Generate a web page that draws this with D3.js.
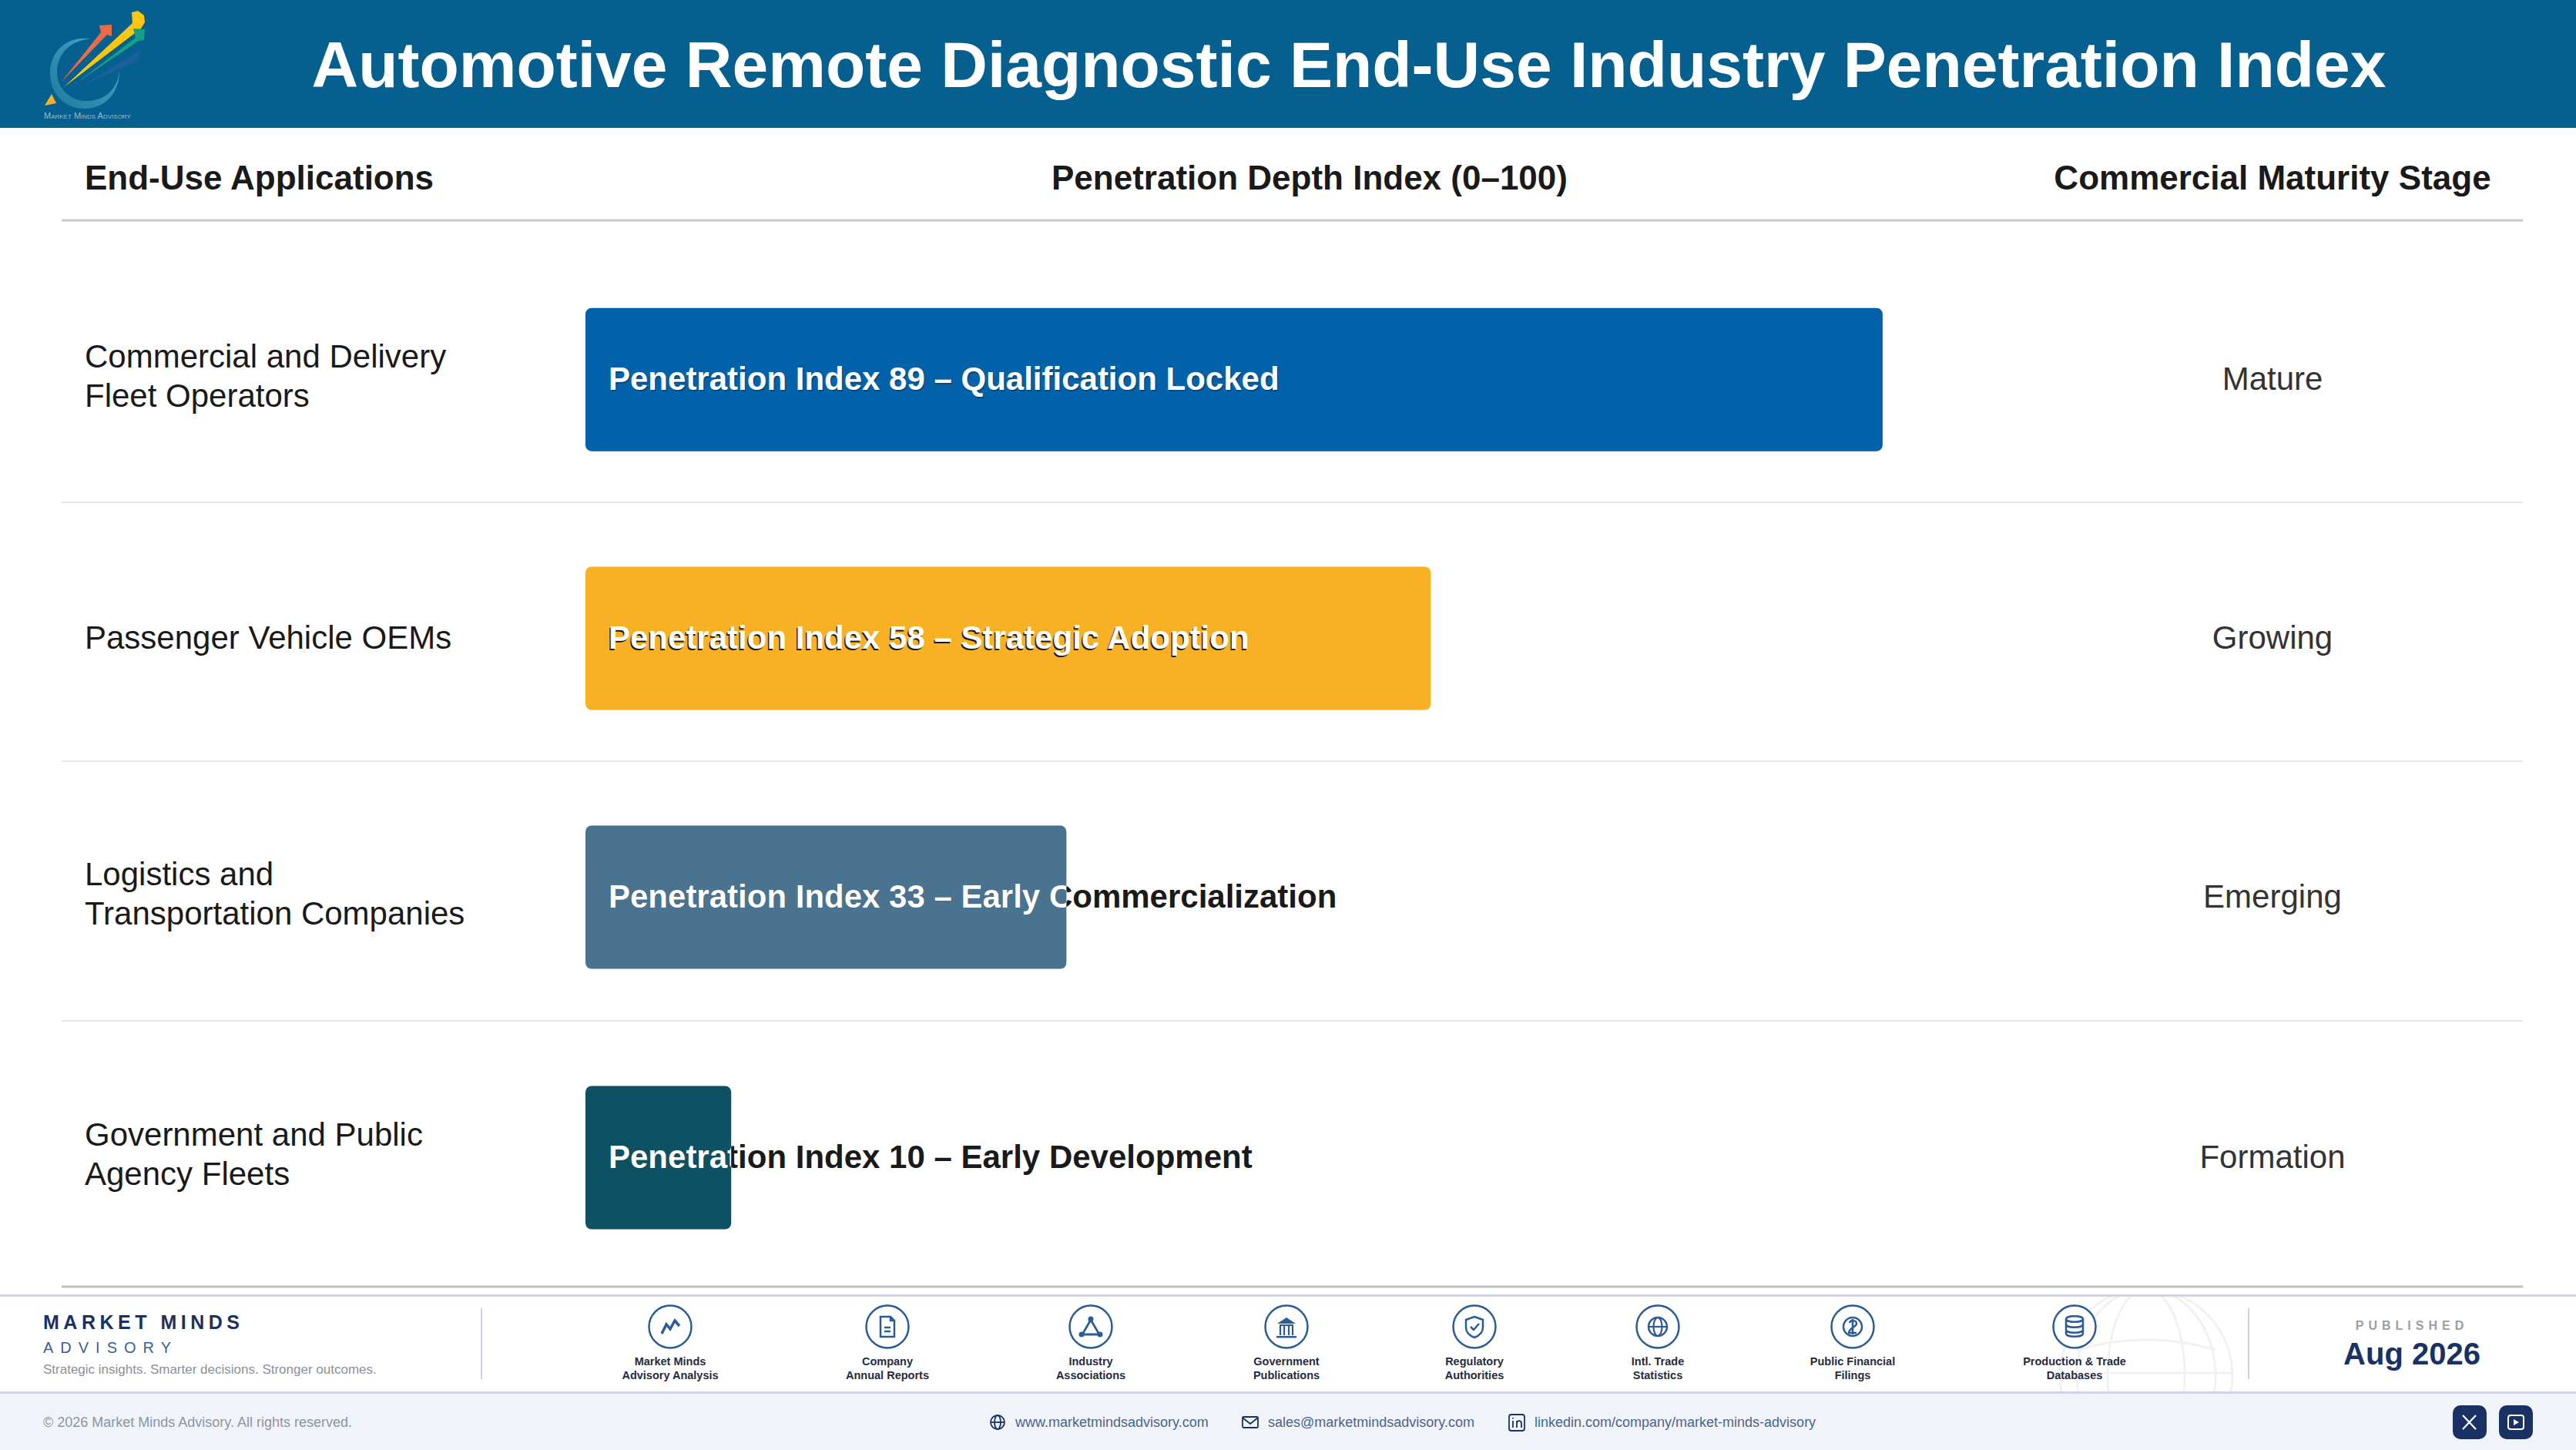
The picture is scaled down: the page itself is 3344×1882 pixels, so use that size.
<!DOCTYPE html>
<html><head><meta charset="utf-8">
<script src="https://cdn.jsdelivr.net/npm/d3@7/dist/d3.min.js"></script>
<style>html,body{margin:0;padding:0;background:#fff;overflow:hidden}svg{display:block}text{font-family:"Liberation Sans",Arial,sans-serif}</style>
</head><body><div id="chart"></div>
<script>
const title = "Automotive Remote Diagnostic End-Use Industry Penetration Index";
const headers = ["End-Use Applications", "Penetration Depth Index (0–100)", "Commercial Maturity Stage"];
const applications = [["Commercial and Delivery","Fleet Operators"],["Passenger Vehicle OEMs"],["Logistics and","Transportation Companies"],["Government and Public","Agency Fleets"]];
const indexValues = [89, 58, 33, 10];
const adoptionLabels = ["Qualification Locked","Strategic Adoption","Early Commercialization","Early Development"];
const stages = ["Mature","Growing","Emerging","Formation"];
const barColors = ["#0262a9","#f8b125","#49738e","#0d5162"];
const sources = [["Market Minds","Advisory Analysis"],["Company","Annual Reports"],["Industry","Associations"],["Government","Publications"],["Regulatory","Authorities"],["Intl. Trade","Statistics"],["Public Financial","Filings"],["Production & Trade","Databases"]];
const sourceCentres = [870,1152,1416,1670,1914,2152,2405,2693];
const contacts = ["www.marketmindsadvisory.com","sales@marketmindsadvisory.com","linkedin.com/company/market-minds-advisory"];

const W=3344,H=1882, svg=d3.select("#chart").append("svg").attr("width",W).attr("height",H).attr("viewBox",[0,0,W,H]);
const defs=svg.append("defs");
const x=d3.scaleLinear().domain([0,100]).range([760,2652]);
const y=d3.scaleOrdinal().domain(d3.range(indexValues.length)).range([492.7,828.5,1164.5,1502.5]);
const barH=186, ink="#1a1a1a", navy="#1a3263", iconBlue="#2a5c96";

// header band
svg.append("rect").attr("width",W).attr("height",166).attr("fill","#05608f");
svg.append("text").attr("x",1751).attr("y",83.5).attr("dy","0.35em").attr("text-anchor","middle").attr("font-size",84).attr("font-weight",700).attr("fill","#fff").text(title);

// logo
const logo=svg.append("g");
const ringGrad=defs.append("linearGradient").attr("id","ring").attr("x1",0).attr("y1",1).attr("x2",1).attr("y2",0);
ringGrad.append("stop").attr("offset","0").attr("stop-color","#1e7a9e");
ringGrad.append("stop").attr("offset","1").attr("stop-color","#4fa6c8");
logo.append("path").attr("fill","url(#ring)").attr("d","M118 50.5 C88 46 65 66 65 95 C65 124 86 141 110 141 C135 141 155 122 155 92 C152 118 134 132 110 131 C89 130 73 113 74 92 C75 69 92 52 118 50.5Z");
logo.append("path").attr("fill","#ef6a46").attr("d","M79 107 L131 42 L129 33 L145 32 L145 47 L139 45 Z");
logo.append("path").attr("fill","#ffc60f").attr("d","M83 113 L172 30 L171 16 L179 14 L187 20 L188 29 L183 37 Z");
logo.append("path").attr("fill","#14a085").attr("d","M100 107 L176 49 L173 37 L188 38 L187 52 L180 53 Z");
logo.append("path").attr("fill","#1c5f9e").attr("d","M103 113 L178 68 L182 65 L180 78 Z");
logo.append("path").attr("fill","#f8b125").attr("d","M58 137 L67 122 L73 134 Z");
logo.append("text").attr("x",57).attr("y",154).attr("font-size",11).attr("fill","#9fb9c9").style("font-variant","small-caps").text("Market Minds Advisory");

// column heads
[[110,"start"],[1700,"middle"],[2950,"middle"]].forEach((c,i)=>{
  svg.append("text").attr("x",c[0]).attr("y",231).attr("dy","0.35em").attr("text-anchor",c[1]).attr("font-size",44).attr("font-weight",700).attr("fill",ink).text(headers[i]);
});
svg.append("rect").attr("x",80).attr("y",284.5).attr("width",3195).attr("height",3).attr("fill","#c9c9d2");

// separators
svg.selectAll("line.sep").data(d3.range(indexValues.length-1)).join("line").attr("class","sep")
  .attr("x1",80).attr("x2",3275).attr("y1",i=>(y(i)+y(i+1))/2-8.5).attr("y2",i=>(y(i)+y(i+1))/2-8.5).attr("stroke","#e6e6ea").attr("stroke-width",2);

// row labels
const rows=svg.selectAll("g.row").data(indexValues).join("g").attr("class","row");
rows.each(function(v,i){
  const g=d3.select(this), cy=y(i), lines=applications[i];
  lines.forEach((t,k)=>{
    g.append("text").attr("x",110).attr("y",cy-(lines.length>1?5:1)+(k-(lines.length-1)/2)*51).attr("dy","0.35em").attr("font-size",42).attr("fill",ink).text(t);
  });
  g.append("rect").attr("x",x(0)).attr("y",cy-barH/2).attr("width",x(v)-x(0)).attr("height",barH).attr("rx",8).attr("fill",barColors[i]);
  const clip=defs.append("clipPath").attr("id","bar"+i);
  clip.append("rect").attr("x",x(0)).attr("y",cy-barH/2).attr("width",x(v)-x(0)).attr("height",barH);
  const label=`Penetration Index ${v} – ${adoptionLabels[i]}`;
  const off=[[1.5,1.5],[-1.5,1.5],[0,0],[0,0]][i];
  const op=[0.35,1,1,1][i];
  g.append("text").attr("x",x(0)+30+off[0]).attr("y",cy-1+off[1]).attr("dy","0.35em").attr("font-size",42).attr("font-weight",700).attr("fill",ink).attr("opacity",op).text(label);
  g.append("text").attr("x",x(0)+30).attr("y",cy-1).attr("dy","0.35em").attr("font-size",42).attr("font-weight",700).attr("fill","#fff").attr("clip-path",`url(#bar${i})`).text(label);
  g.append("text").attr("x",2950).attr("y",cy-1).attr("dy","0.35em").attr("text-anchor","middle").attr("font-size",42).attr("fill","#333").text(stages[i]);
});
svg.append("rect").attr("x",80).attr("y",1668.5).attr("width",3195).attr("height",3).attr("fill","#bfbfc4");

// footer watermark globe
const wm=svg.append("g").attr("fill","none").attr("stroke","#f1f1f3").attr("stroke-width",3);
defs.append("clipPath").attr("id","foot").append("rect").attr("x",0).attr("y",1681).attr("width",W).attr("height",126);
wm.attr("clip-path","url(#foot)");
wm.append("circle").attr("cx",2786).attr("cy",1785).attr("r",112);
wm.append("ellipse").attr("cx",2786).attr("cy",1785).attr("rx",50).attr("ry",112);
wm.append("ellipse").attr("cx",2786).attr("cy",1785).attr("rx",90).attr("ry",112);
wm.append("line").attr("x1",2670).attr("x2",2900).attr("y1",1782).attr("y2",1782);
wm.append("path").attr("d","M2696 1752 Q2786 1726 2876 1752");

// footer
svg.append("rect").attr("y",1680).attr("width",W).attr("height",3).attr("fill","#d1d4e4");
svg.append("rect").attr("y",1806).attr("width",W).attr("height",76).attr("fill","#f0f4f8");
svg.append("rect").attr("y",1806).attr("width",W).attr("height",3).attr("fill","#d1d4e4");
svg.append("text").attr("x",56).attr("y",1725).attr("font-size",25).attr("font-weight",700).attr("letter-spacing",5.5).attr("fill",navy).text("MARKET MINDS");
svg.append("text").attr("x",56).attr("y",1756).attr("font-size",20).attr("letter-spacing",9).attr("fill","#3c5f92").text("ADVISORY");
svg.append("text").attr("x",56).attr("y",1783).attr("font-size",17).attr("fill","#8a909c").text("Strategic insights. Smarter decisions. Stronger outcomes.");
[625,2919].forEach(px=>svg.append("rect").attr("x",px-1).attr("y",1698).attr("width",2).attr("height",92).attr("fill","#cdd2de"));

const icons=[
 g=>{g.append("path").attr("fill","none").attr("stroke-width",3.5).attr("d","M-11 9 L-5 -3 L0 3 L6 -8 L12 -1");},
 g=>{g.append("path").attr("fill","none").attr("stroke-width",2.5).attr("d","M-9 -13 H4 L9 -8 V13 H-9 Z M4 -13 V-8 H9 M-4 1 H4 M-4 6 H4");},
 g=>{g.append("path").attr("fill","none").attr("stroke-width",2.8).attr("d","M0 -9 L-11 10 H11 Z");[[0,-10],[-12,10],[12,10]].forEach(d=>g.append("circle").attr("cx",d[0]).attr("cy",d[1]).attr("r",3.5).attr("fill",iconBlue).attr("stroke","none"));},
 g=>{g.append("path").attr("fill",iconBlue).attr("stroke","none").attr("d","M0 -12 L12 -4 H-12 Z M-13 12 H13 V14.5 H-13 Z");g.append("path").attr("fill","none").attr("stroke-width",2.2).attr("d","M-9 -2 H9 M-8 -1 V11 M-3 -1 V11 M3 -1 V11 M8 -1 V11");},
 g=>{g.append("path").attr("fill","none").attr("stroke-width",2.5).attr("d","M0 -13 L11 -9 V1 C11 8 5 12 0 14 C-5 12 -11 8 -11 1 V-9 Z M-5 0 L-1 4 L6 -4");},
 g=>{g.append("circle").attr("r",12).attr("fill","none").attr("stroke-width",2.5);g.append("ellipse").attr("rx",5.5).attr("ry",12).attr("fill","none").attr("stroke-width",2.2);g.append("path").attr("stroke-width",2.2).attr("d","M-12 0 H12");},
 g=>{g.append("circle").attr("r",12).attr("fill","none").attr("stroke-width",2.5);g.append("path").attr("fill","none").attr("stroke-width",2.5).attr("d","M-4 -5 C-3 -9 5 -9 5 -4 C5 0 -5 2 -5 8 H5 M0 -10 V10");},
 g=>{g.append("path").attr("fill","none").attr("stroke-width",2.5).attr("d","M-11 -10 C-11 -15 11 -15 11 -10 V9 C11 14 -11 14 -11 9 Z M-11 -10 C-11 -5 11 -5 11 -10 M-11 -3 C-11 2 11 2 11 -3 M-11 4 C-11 9 11 9 11 4");}
];
sources.forEach((s,i)=>{
  const cx=sourceCentres[i], g=svg.append("g").attr("transform",`translate(${cx},1722)`).attr("stroke",iconBlue);
  g.append("circle").attr("r",27.5).attr("fill","#fff").attr("stroke-width",2.5);
  icons[i](g);
  s.forEach((t,k)=>svg.append("text").attr("x",cx).attr("y",1772+k*18).attr("text-anchor","middle").attr("font-size",14.5).attr("font-weight",700).attr("fill","#262b40").text(t));
});
svg.append("text").attr("x",3131).attr("y",1726).attr("text-anchor","middle").attr("font-size",16).attr("font-weight",700).attr("letter-spacing",6).attr("fill","#9a9ea6").text("PUBLISHED");
svg.append("text").attr("x",3131).attr("y",1771).attr("text-anchor","middle").attr("font-size",40).attr("font-weight",700).attr("fill",navy).text("Aug 2026");

// bottom strip
svg.append("text").attr("x",56).attr("y",1846).attr("dy","0.35em").attr("font-size",18).attr("fill","#8d95a3").text("© 2026 Market Minds Advisory. All rights reserved.");
const contactX=[1318,1646,1992], contactColor="#4a648c";
contacts.forEach((t,i)=>svg.append("text").attr("x",contactX[i]).attr("y",1846).attr("dy","0.35em").attr("font-size",18).attr("fill",contactColor).text(t));
const ci=svg.append("g").attr("fill","none").attr("stroke",navy).attr("stroke-width",1.8);
ci.append("circle").attr("cx",1295).attr("cy",1846).attr("r",9);
ci.append("ellipse").attr("cx",1295).attr("cy",1846).attr("rx",4).attr("ry",9);
ci.append("path").attr("d","M1286 1846 H1304");
ci.append("rect").attr("x",1613).attr("y",1839).attr("width",20).attr("height",14).attr("rx",1.5);
ci.append("path").attr("d","M1613 1840 L1623 1848 L1633 1840");
ci.append("rect").attr("x",1959).attr("y",1836).attr("width",20).attr("height",21).attr("rx",3);
ci.append("path").attr("d","M1964 1844 V1853 M1964 1840 V1841.5 M1969 1853 V1844 M1969 1847 C1970 1843 1975 1843 1975 1848 V1853");
[3184,3244].forEach(bx=>svg.append("rect").attr("x",bx).attr("y",1824).attr("width",44).attr("height",44).attr("rx",10).attr("fill",navy));
svg.append("path").attr("fill","none").attr("stroke","#fff").attr("stroke-width",2.2).attr("d","M3197 1837 L3214 1855 M3214 1837 L3197 1855");
svg.append("rect").attr("x",3256).attr("y",1837).attr("width",20).attr("height",18).attr("rx",3).attr("fill","none").attr("stroke","#fff").attr("stroke-width",2);
svg.append("path").attr("fill","#fff").attr("d","M3263 1842 L3270 1846 L3263 1850 Z");
</script></body></html>
